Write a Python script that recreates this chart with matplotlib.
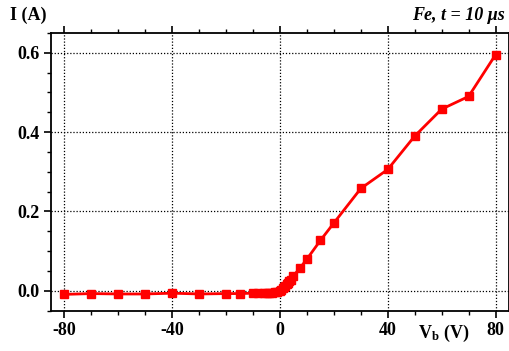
import matplotlib
matplotlib.use("Agg")
import matplotlib.pyplot as plt
from matplotlib.ticker import MultipleLocator

V = [-80, -70, -60, -50, -40, -30, -20, -15, -10, -8, -6, -5, -4, -3, -2, -1, 0,
     0.5, 1, 1.5, 2, 2.5, 3, 3.5, 4, 5, 7.5, 10, 15, 20, 30, 40, 50, 60, 70, 80]
I = [-0.009, -0.007, -0.008, -0.008, -0.006, -0.008, -0.007, -0.007, -0.006, -0.006,
     -0.006, -0.006, -0.005, -0.005, -0.004, -0.002, 0.0,
     0.003, 0.006, 0.009, 0.012, 0.016, 0.02, 0.024, 0.028, 0.038, 0.058, 0.080,
     0.127, 0.171, 0.258, 0.306, 0.390, 0.458, 0.490, 0.595]
xticks = [-80, -40, 0, 40, 80]
yticks = [0.0, 0.2, 0.4, 0.6]

plt.rcParams['font.family'] = ['Liberation Serif', 'DejaVu Serif']
plt.rcParams['mathtext.fontset'] = 'custom'
plt.rcParams['mathtext.rm'] = 'Liberation Serif:bold'
plt.rcParams['mathtext.bf'] = 'Liberation Serif:bold'
plt.rcParams['mathtext.it'] = 'Liberation Serif:italic:bold'
plt.rcParams['mathtext.default'] = 'bf'

fig = plt.figure(figsize=(5.1, 3.51), dpi=100)
ax = fig.add_axes([0.1, 0.115, 0.898, 0.791])
ax.plot(V, I, color='#ff0000', lw=2, marker='s', ms=5.5, mec='#ff0000', mfc='#ff0000', zorder=3)
ax.set_xlim(-85, 85)
ax.set_ylim(-0.05, 0.65)
ax.set_xticks(xticks)
ax.set_yticks(yticks)
ax.set_xticklabels([f"{t}" for t in xticks])
ax.set_yticklabels([f"{t:.1f}" for t in yticks])
ax.xaxis.set_minor_locator(MultipleLocator(10))
ax.yaxis.set_minor_locator(MultipleLocator(0.05))
ax.grid(True, which='major', color='black', ls=(0, (1, 1.5)), lw=0.9)
for lab in ax.get_xticklabels() + ax.get_yticklabels():
    lab.set_fontweight('bold')
    lab.set_fontsize(13)
ax.tick_params(axis='both', which='major', length=5, width=1.2, direction='out', pad=3)
ax.tick_params(axis='both', which='minor', length=3, width=1.0, direction='out')
ax.tick_params(top=True, right=True, which='both')
for sp in ax.spines.values():
    sp.set_linewidth(1.3)

fig.text(0.02, 0.955, "I (A)", fontsize=13, fontweight='bold', va='center', ha='left')
fig.text(0.99, 0.955, "Fe, t = 10 \u03bcs", fontsize=13, fontweight='bold', style='italic',
         va='center', ha='right')
fig.text(0.82, 0.05, r"V$_{b}$ (V)", fontsize=13, fontweight='bold', va='center', ha='left')
fig.savefig("out.png", dpi=100)
